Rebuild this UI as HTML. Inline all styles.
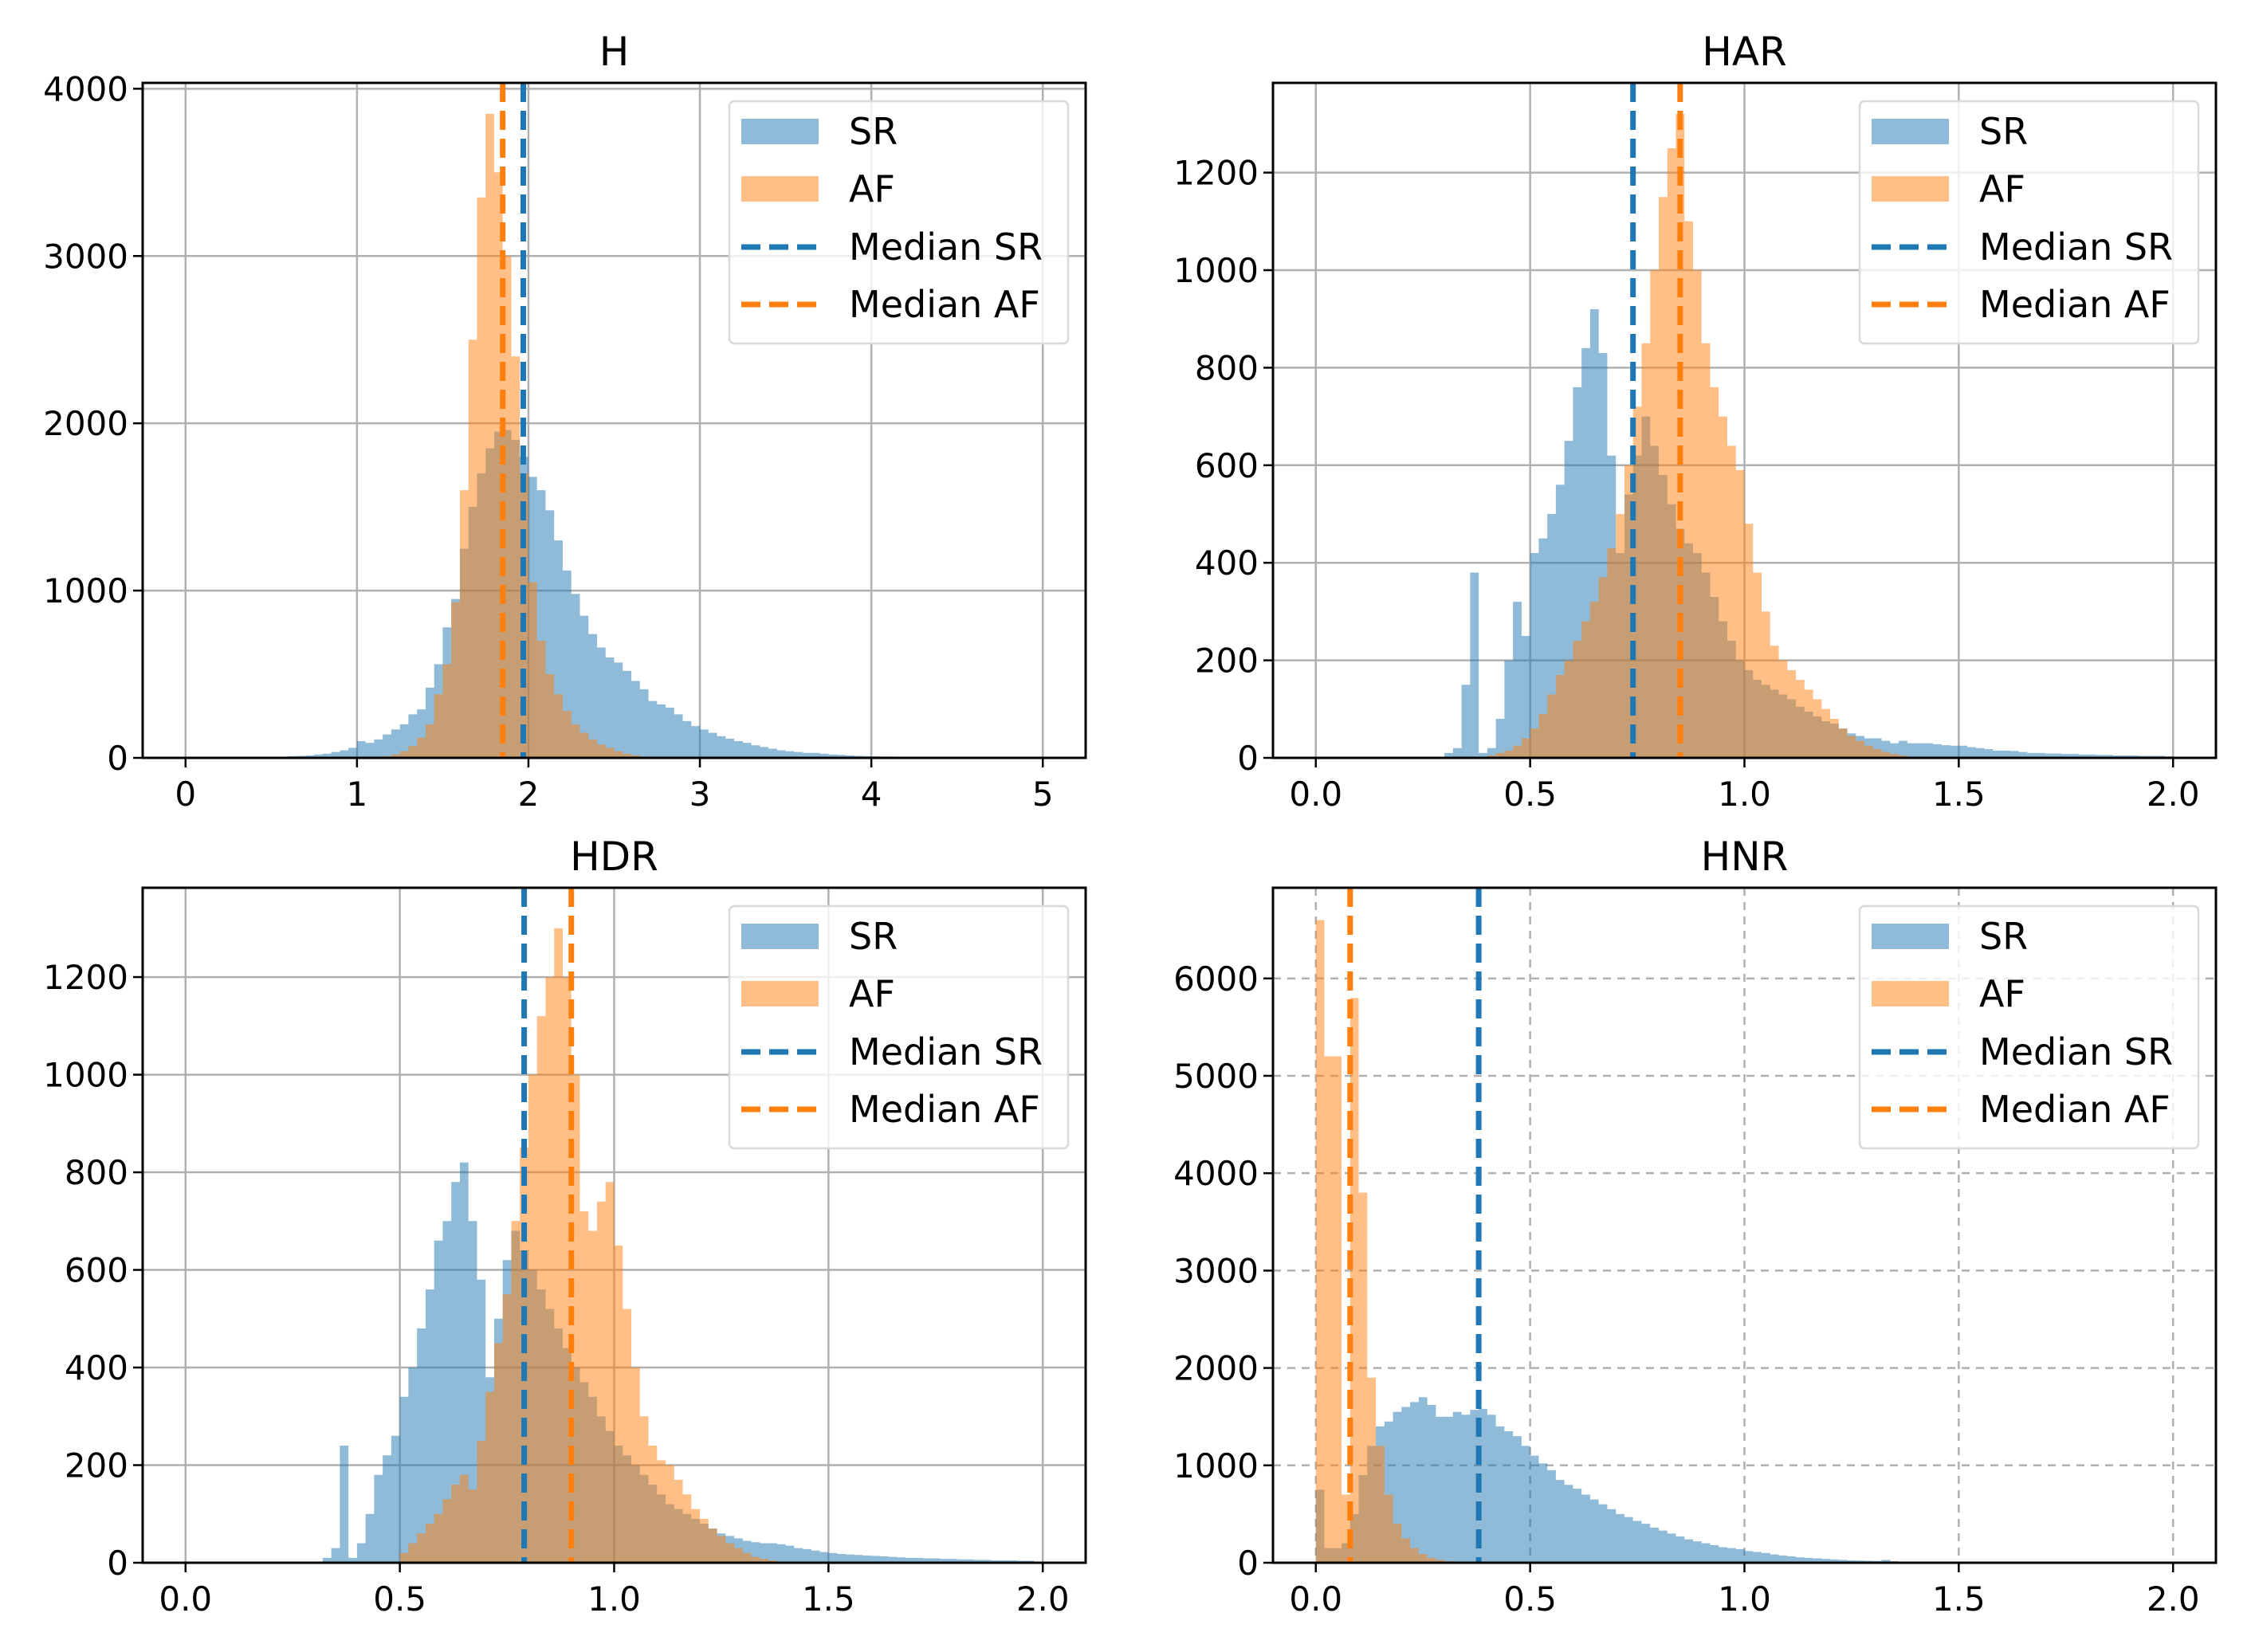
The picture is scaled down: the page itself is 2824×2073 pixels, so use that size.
<!DOCTYPE html>
<html><head><meta charset="utf-8">
<style>
html,body{margin:0;padding:0;background:#fff;}
svg{display:block;font-family:"DejaVu Sans","Liberation Sans",sans-serif;}
</style></head>
<body>
<svg id="fig" width="2824" height="2073" viewBox="0 0 2824 2073" xmlns="http://www.w3.org/2000/svg"></svg>
<script>
// ---- H panel data (bin width 0.05) ----
const hBinWidth = 0.05;
const hSRStart = 0.6;
const hSRCounts = [10,12,15,20,25,35,45,60,100,90,110,140,170,200,260,290,420,560,780,950,1250,1500,1700,1850,1950,1960,1900,1800,1680,1600,1480,1300,1120,980,850,740,660,600,570,520,460,410,340,320,300,260,220,190,170,150,130,115,100,90,75,65,55,45,40,35,30,30,25,20,18,15,12,10,9,8,8,7,7,6,6,5,5,5,4,4,4,3,3,3,3,2];
const hAFStart = 1.1;
const hAFCounts = [5,10,20,40,70,120,200,380,560,930,1600,2500,3350,3850,3500,3000,2400,1700,1050,700,500,380,280,200,150,110,80,60,40,25,15,8,4];
const hMedians = [1.97, 1.85];
const hXTicks = [0,1,2,3,4,5];
const hXTickLabels = ["0","1","2","3","4","5"];
const hYTicks = [0,1000,2000,3000,4000];

// ---- HAR panel data (bin width 0.02) ----
const harBinWidth = 0.02;
const harSRStart = 0.30;
const harSRCounts = [10,20,150,380,10,20,80,200,320,250,420,450,500,560,650,760,840,920,830,620,420,540,620,700,640,580,520,470,440,420,380,330,280,240,200,180,160,150,140,130,120,105,95,85,75,70,60,50,45,40,40,35,30,35,30,30,30,28,26,25,25,22,20,18,15,15,14,12,10,10,9,9,8,8,7,7,6,6,5,5,5,4,4,4,3];
const harAFStart = 0.40;
const harAFCounts = [5,10,15,25,40,60,90,130,170,200,240,280,320,370,430,500,600,720,850,1000,1150,1250,1320,1100,1000,850,760,700,640,590,480,380,300,230,200,180,160,140,120,100,80,60,45,35,25,18,12,8,5];
const harMedians = [0.74, 0.85];
const harXTicks = [0,0.5,1.0,1.5,2.0];
const harXTickLabels = ["0.0","0.5","1.0","1.5","2.0"];
const harYTicks = [0,200,400,600,800,1000,1200];

// ---- HDR panel data (bin width 0.02) ----
const hdrBinWidth = 0.02;
const hdrSRStart = 0.32;
const hdrSRCounts = [10,30,240,10,40,100,180,220,260,340,400,480,560,660,700,780,820,700,580,380,500,620,680,640,600,560,520,480,440,400,370,340,300,270,240,220,200,180,160,140,120,110,100,90,80,70,60,55,50,45,42,40,40,38,35,30,28,25,22,20,18,17,16,15,14,13,12,11,10,10,9,9,8,8,7,7,6,6,5,5,5,4,4];
const hdrAFStart = 0.50;
const hdrAFCounts = [20,40,60,80,100,130,160,180,150,250,350,450,550,700,850,1000,1120,1200,1300,1200,1000,720,680,740,780,650,520,400,300,240,210,200,170,140,110,90,70,55,40,30,20,12,8,5];
const hdrMedians = [0.79, 0.90];
const hdrXTicks = [0,0.5,1.0,1.5,2.0];
const hdrXTickLabels = ["0.0","0.5","1.0","1.5","2.0"];
const hdrYTicks = [0,200,400,600,800,1000,1200];

// ---- HNR panel data (bin width 0.02) ----
const hnrBinWidth = 0.02;
const hnrSRStart = 0.0;
const hnrSRCounts = [750,150,150,200,500,900,1200,1400,1450,1550,1600,1650,1700,1620,1500,1500,1550,1520,1570,1580,1520,1400,1350,1300,1200,1100,1020,950,850,800,760,700,650,600,550,500,470,430,400,360,330,300,270,240,220,200,180,160,150,140,120,110,100,85,75,65,55,50,45,40,35,30,25,22,20,18,30,15,12,10,8,7,6,5,4,4,3,3,2];
const hnrAFStart = 0.0;
const hnrAFCounts = [6600,5200,5200,700,5800,3800,1900,1200,700,400,250,150,90,50,30,15,8];
const hnrMedians = [0.38, 0.08];
const hnrXTicks = [0,0.5,1.0,1.5,2.0];
const hnrXTickLabels = ["0.0","0.5","1.0","1.5","2.0"];
const hnrYTicks = [0,1000,2000,3000,4000,5000,6000];

const NS = "http://www.w3.org/2000/svg";
const svg = document.getElementById("fig");
function mk(tag, attrs, parent){
  const e = document.createElementNS(NS, tag);
  for (const k in attrs) e.setAttribute(k, attrs[k]);
  (parent||svg).appendChild(e);
  return e;
}

function panel(p){
  const g = mk("g", {});
  
  
  const L=p.left, T=p.top, W=1183, H=847;
  const sx = v => L + (v - p.xmin)/(p.xmax - p.xmin)*W;
  const sy = v => T + H - (v - p.ymin)/(p.ymax - p.ymin)*H;
  const cid = "clip-"+p.name;
  const cp = mk("clipPath",{id:cid}, g);
  mk("rect",{x:L,y:T,width:W,height:H}, cp);
  const grid = mk("g",{}, g);
  
  
  const dash = p.dashedGrid ? "10,8" : "none";
  p.xt.forEach(v=>{ mk("line",{x1:sx(v),x2:sx(v),y1:T,y2:T+H,stroke:"#b0b0b0","stroke-width":2.5,"stroke-dasharray":dash}, grid); });
  p.yt.forEach(v=>{ mk("line",{x1:L,x2:L+W,y1:sy(v),y2:sy(v),stroke:"#b0b0b0","stroke-width":2.5,"stroke-dasharray":dash}, grid); });
  const bars = mk("g",{"clip-path":"url(#"+cid+")"}, g);
  const series = [[p.srStart,p.srCounts,"#1f77b4","sr"],[p.afStart,p.afCounts,"#ff7f0e","af"]];
  series.forEach(s=>{
    const sg = mk("g",{}, bars);
    
    
    let d = "M"+sx(s[0])+","+sy(0);
    s[1].forEach((c,i)=>{
      const x0 = sx(s[0]+i*p.bw), x1 = sx(s[0]+(i+1)*p.bw), y = sy(c);
      d += " L"+x0+","+y+" L"+x1+","+y;
    });
    d += " L"+sx(s[0]+s[1].length*p.bw)+","+sy(0)+" Z";
    const path = mk("path",{d:d,fill:s[2],"fill-opacity":0.5,stroke:"none"}, sg);
    
    
  });
  const mcol = ["#1f77b4","#ff7f0e"], mname=["median-sr","median-af"];
  p.med.forEach((m,i)=>{
    const ln = mk("line",{x1:sx(m),x2:sx(m),y1:T,y2:T+H,stroke:mcol[i],"stroke-width":7,"stroke-dasharray":"24,11"}, g);
    
    
  });
  const sp = mk("rect",{x:L,y:T,width:W,height:H,fill:"none",stroke:"#000","stroke-width":3}, g);
  
  
  p.xt.forEach((v,i)=>{
    mk("line",{x1:sx(v),x2:sx(v),y1:T+H,y2:T+H+12,stroke:"#000","stroke-width":2.5}, g);
    const t = mk("text",{x:sx(v),y:T+H+60,"font-size":42,"text-anchor":"middle",fill:"#000"}, g);
    t.textContent = p.xl[i];
    
    
  });
  p.yt.forEach(v=>{
    mk("line",{x1:L-12,x2:L,y1:sy(v),y2:sy(v),stroke:"#000","stroke-width":2.5}, g);
    const t = mk("text",{x:L-18,y:sy(v)+15,"font-size":42,"text-anchor":"end",fill:"#000"}, g);
    t.textContent = String(v);
    
    
  });
  const tt = mk("text",{x:L+W/2,y:T-22,"font-size":50,"text-anchor":"middle",fill:"#000"}, g);
  tt.textContent = p.title;
  
  
  const lg = mk("g",{}, g);
  
  
  const lx = L+W-22-425, ly = T+23;
  mk("rect",{x:lx,y:ly,width:425,height:304,rx:6,fill:"#fff","fill-opacity":0.8,stroke:"#d9d9d9","stroke-width":2.5}, lg);
  const labels = ["SR","AF","Median SR","Median AF"];
  const offs = [38,110,183,255];
  labels.forEach((lab,i)=>{
    const cy = ly+offs[i];
    const e = mk("g",{}, lg);
    
    
    if(i<2) mk("rect",{x:lx+15,y:cy-16,width:97,height:32,fill:i==0?"#1f77b4":"#ff7f0e","fill-opacity":0.5}, e);
    else mk("line",{x1:lx+15,x2:lx+112,y1:cy,y2:cy,stroke:i==2?"#1f77b4":"#ff7f0e","stroke-width":7,"stroke-dasharray":"24,11"}, e);
    const t = mk("text",{x:lx+150,y:cy+16,"font-size":46,fill:"#000"}, e);
    t.textContent = lab;
  });
}

panel({name:"h",title:"H",left:179,top:104,xmin:-0.25,xmax:5.25,ymin:0,ymax:4035,bw:hBinWidth,srStart:hSRStart,srCounts:hSRCounts,afStart:hAFStart,afCounts:hAFCounts,med:hMedians,xt:hXTicks,xl:hXTickLabels,yt:hYTicks});
panel({name:"har",title:"HAR",left:1597,top:104,xmin:-0.1,xmax:2.1,ymin:0,ymax:1384,bw:harBinWidth,srStart:harSRStart,srCounts:harSRCounts,afStart:harAFStart,afCounts:harAFCounts,med:harMedians,xt:harXTicks,xl:harXTickLabels,yt:harYTicks});
panel({name:"hdr",title:"HDR",left:179,top:1114,xmin:-0.1,xmax:2.1,ymin:0,ymax:1383,bw:hdrBinWidth,srStart:hdrSRStart,srCounts:hdrSRCounts,afStart:hdrAFStart,afCounts:hdrAFCounts,med:hdrMedians,xt:hdrXTicks,xl:hdrXTickLabels,yt:hdrYTicks});
panel({name:"hnr",title:"HNR",left:1597,top:1114,xmin:-0.1,xmax:2.1,ymin:0,ymax:6931,bw:hnrBinWidth,srStart:hnrSRStart,srCounts:hnrSRCounts,afStart:hnrAFStart,afCounts:hnrAFCounts,med:hnrMedians,xt:hnrXTicks,xl:hnrXTickLabels,yt:hnrYTicks,dashedGrid:true});
</script>
</body></html>
